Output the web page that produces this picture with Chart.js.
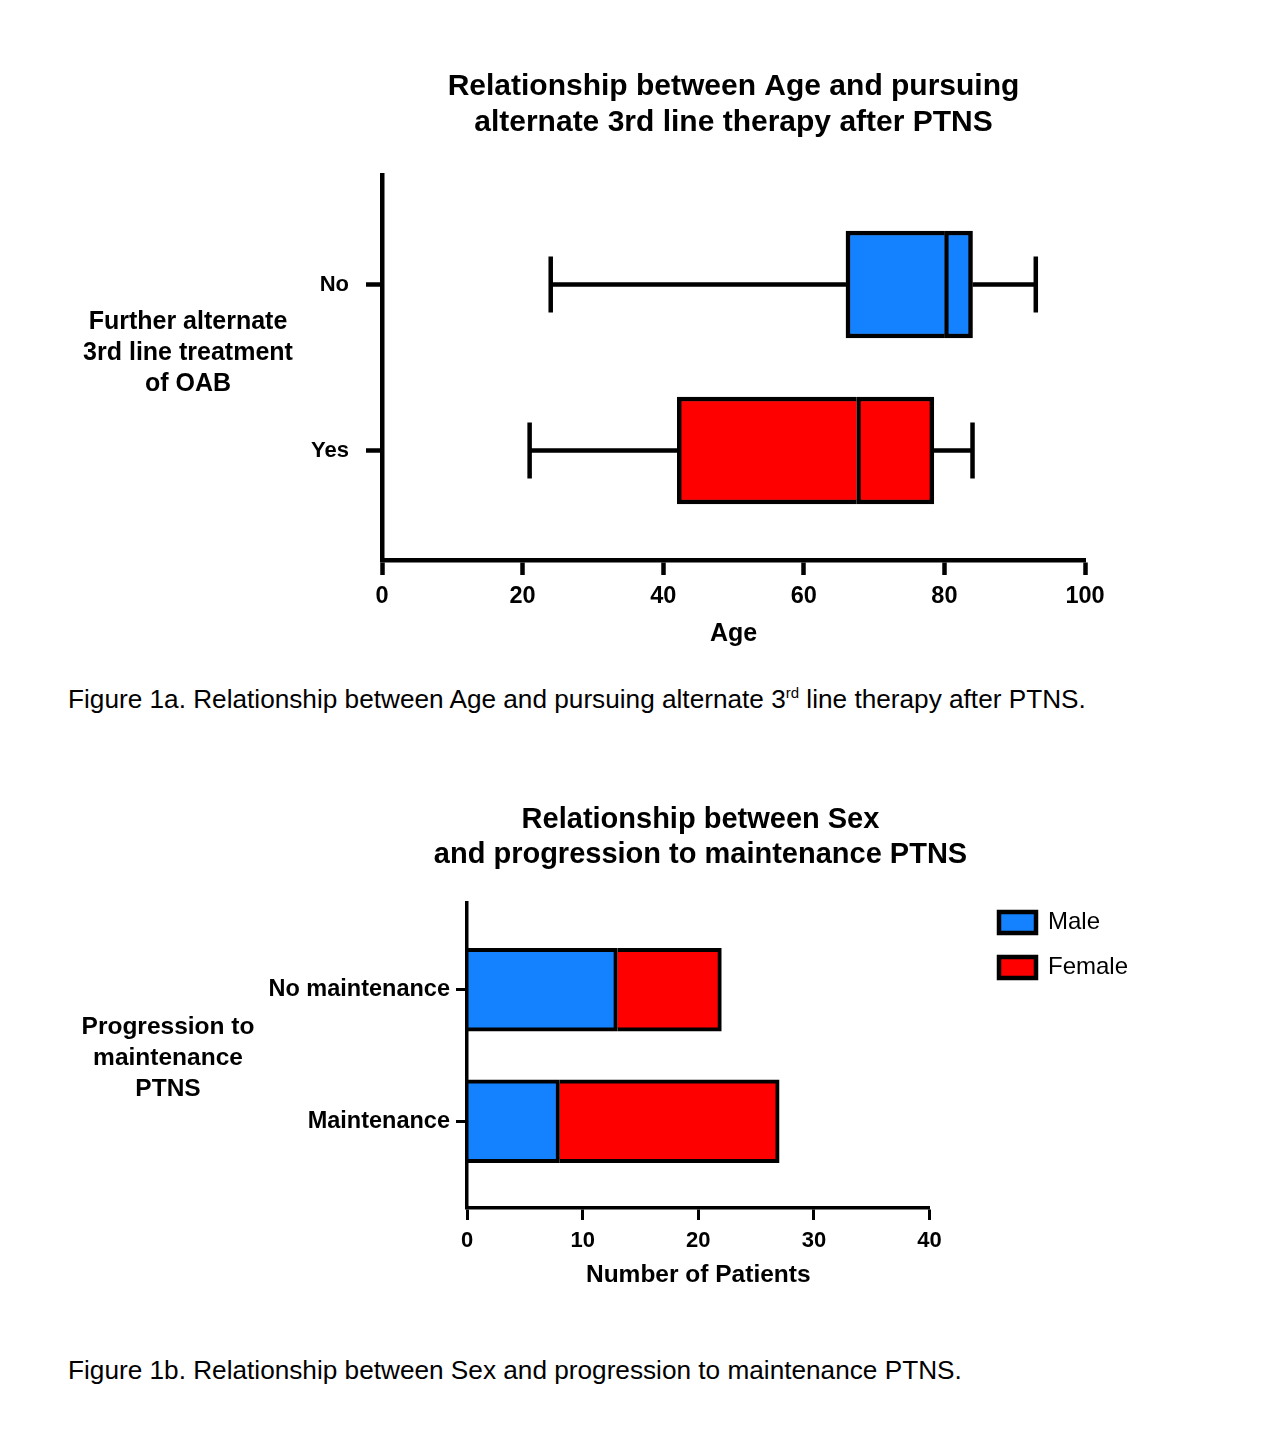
<!DOCTYPE html>
<html>
<head>
<meta charset="utf-8">
<script src="https://cdn.jsdelivr.net/npm/chart.js@4.4.1/dist/chart.umd.min.js"></script>
<style>
  html, body { margin: 0; padding: 0; background: #fff; }
  #page { position: relative; width: 1267px; height: 1429px; font-family: "Liberation Sans", Arial, sans-serif; color: #000; }
  .wrap { position: absolute; left: 0; width: 1267px; }
  .ytitle { position: absolute; width: 300px; text-align: center; font-weight: bold; line-height: 31px; }
  .caption { position: absolute; left: 68px; font-size: 26.2px; line-height: 30px; white-space: nowrap; }
  .caption sup { font-size: 15px; line-height: 0; vertical-align: 10px; }
</style>
</head>
<body>
<div id="page">
  <div class="wrap" style="top:0;height:660px"><canvas id="ageChart"></canvas></div>
  <div class="ytitle" style="left:38px;top:305px;font-size:25px">Further alternate<br>3rd line treatment<br>of OAB</div>
  <div class="caption" style="top:684px">Figure 1a. Relationship between Age and pursuing alternate 3<sup>rd</sup> line therapy after PTNS.</div>

  <div class="wrap" style="top:740px;height:560px"><canvas id="sexChart"></canvas></div>
  <div class="ytitle" style="left:18px;top:1010px;font-size:24.5px">Progression to<br>maintenance<br>PTNS</div>
  <div class="caption" style="top:1355px">Figure 1b. Relationship between Sex and progression to maintenance PTNS.</div>
</div>

<script>
// Figure 1a - age box plot (min, Q1, median, Q3, max)
const ageGroups = ['No', 'Yes'];
const ageMin = [24, 21];
const ageQ1 = [66, 42];
const ageMedian = [80, 67.5];
const ageQ3 = [84, 78.5];
const ageMax = [93, 84];
const ageTicks = [0, 20, 40, 60, 80, 100];

// Figure 1b - patients by sex
const maintGroups = ['No maintenance', 'Maintenance'];
const maleCounts = [13, 8];
const femaleCounts = [9, 19];
const patientTicks = [0, 10, 20, 30, 40];

const BLUE = '#1482FF';
const RED = '#FF0000';
const boxColors = [BLUE, RED];
const FONT = '"Liberation Sans", Arial, sans-serif';

Chart.defaults.font.family = FONT;
Chart.defaults.color = '#000';
Chart.defaults.animation = false;

// whiskers and caps for the box plot
const whiskerPlugin = {
    id: 'whiskers',
    afterDatasetsDraw(chart) {
        const { ctx, scales: { x, y } } = chart;
        const cap = 28;
        ctx.save();
        ctx.strokeStyle = '#000';
        ctx.lineWidth = 4.5;
        ageGroups.forEach((g, i) => {
            const yc = y.getPixelForValue(i);
            const xMin = x.getPixelForValue(ageMin[i]);
            const xQ1 = x.getPixelForValue(ageQ1[i]);
            const xQ3 = x.getPixelForValue(ageQ3[i]);
            const xMax = x.getPixelForValue(ageMax[i]);
            ctx.beginPath();
            ctx.moveTo(xMin, yc); ctx.lineTo(xQ1, yc);
            ctx.moveTo(xQ3, yc); ctx.lineTo(xMax, yc);
            ctx.moveTo(xMin, yc - cap); ctx.lineTo(xMin, yc + cap);
            ctx.moveTo(xMax, yc - cap); ctx.lineTo(xMax, yc + cap);
            ctx.stroke();
        });
        ctx.restore();
    }
};

function categoryTicks(labels) {
    return function(scale) {
        scale.ticks = labels.map((l, i) => ({ value: i }));
    };
}

new Chart(document.getElementById('ageChart'), {
    type: 'bar',
    data: {
        datasets: [{
            label: 'Q1 - median',
            data: ageGroups.map((g, i) => ({ x: [ageQ1[i], ageMedian[i]], y: i })),
            backgroundColor: boxColors,
            borderColor: '#000',
            borderWidth: { top: 4.5, bottom: 4.5, left: 4.5, right: 0 },
            borderSkipped: false,
            barThickness: 107,
            grouped: false
        }, {
            label: 'median - Q3',
            data: ageGroups.map((g, i) => ({ x: [ageMedian[i], ageQ3[i]], y: i })),
            backgroundColor: boxColors,
            borderColor: '#000',
            borderWidth: 4.5,
            borderSkipped: false,
            barThickness: 107,
            grouped: false
        }]
    },
    options: {
        indexAxis: 'y',
        responsive: true,
        maintainAspectRatio: false,
        layout: { padding: { left: 0, right: 182, top: 0, bottom: 0 } },
        plugins: {
            legend: { display: false },
            tooltip: { enabled: false },
            title: {
                display: true,
                fullSize: false,
                text: ['Relationship between Age and pursuing', 'alternate 3rd line therapy after PTNS'],
                font: { size: 30, weight: 'bold', lineHeight: 1.2 },
                color: '#000',
                padding: { top: 69, bottom: 34 }
            }
        },
        scales: {
            x: {
                type: 'linear',
                min: 0,
                max: 100,
                afterBuildTicks: s => { s.ticks = ageTicks.map(v => ({ value: v })); },
                ticks: { font: { size: 23.5, weight: 'bold' }, padding: 7, color: '#000' },
                grid: { drawOnChartArea: false, tickLength: 15, tickWidth: 4.5, color: '#000' },
                border: { color: '#000', width: 4.5 },
                title: { display: true, text: 'Age', font: { size: 25, weight: 'bold' }, color: '#000', padding: { top: 0, bottom: 11 } },
                afterFit: s => { s.height = 100; }
            },
            y: {
                type: 'linear',
                reverse: true,
                offset: false,
                min: -0.66,
                max: 1.66,
                afterBuildTicks: categoryTicks(ageGroups),
                ticks: { callback: v => ageGroups[v], font: { size: 22, weight: 'bold' }, padding: 17, color: '#000' },
                grid: { offset: false, drawOnChartArea: false, tickLength: 16, tickWidth: 4.5, color: '#000' },
                border: { color: '#000', width: 4.5 },
                afterFit: s => { s.width = 382; }
            }
        }
    },
    plugins: [whiskerPlugin]
});

new Chart(document.getElementById('sexChart'), {
    type: 'bar',
    data: {
        datasets: [{
            label: 'Male',
            data: maintGroups.map((g, i) => ({ x: maleCounts[i], y: i })),
            backgroundColor: BLUE,
            borderColor: '#000',
            borderWidth: { top: 4, bottom: 4, left: 0, right: 4 },
            borderSkipped: false,
            barThickness: 83,
            yAxisID: 'y'
        }, {
            label: 'Female',
            data: maintGroups.map((g, i) => ({ x: femaleCounts[i], y: i })),
            backgroundColor: RED,
            borderColor: '#000',
            borderWidth: { top: 4, bottom: 4, left: 0, right: 4 },
            borderSkipped: false,
            barThickness: 83,
            yAxisID: 'y'
        }]
    },
    options: {
        indexAxis: 'y',
        responsive: true,
        maintainAspectRatio: false,
        layout: { padding: { left: 264, right: 130, top: 0, bottom: 0 } },
        plugins: {
            tooltip: { enabled: false },
            title: {
                display: true,
                text: ['Relationship between Sex', 'and progression to maintenance PTNS'],
                font: { size: 29, weight: 'bold', lineHeight: 1.2 },
                color: '#000',
                padding: { top: 62.6, bottom: 30.8 }
            },
            legend: {
                position: 'right',
                align: 'start',
                fullSize: false,
                labels: {
                    boxWidth: 37,
                    boxHeight: 21,
                    padding: 7.5,
                    color: '#000',
                    font: { size: 24, lineHeight: 1.5625 },
                    generateLabels(chart) {
                        return Chart.defaults.plugins.legend.labels.generateLabels(chart).map(item => {
                            item.text = [item.text];
                            item.lineWidth = 4.5;
                            return item;
                        });
                    }
                }
            }
        },
        scales: {
            x: {
                type: 'linear',
                stacked: true,
                min: 0,
                max: 40,
                afterBuildTicks: s => { s.ticks = patientTicks.map(v => ({ value: v })); },
                ticks: { font: { size: 22, weight: 'bold' }, padding: 8, color: '#000' },
                grid: { drawOnChartArea: false, tickLength: 12, tickWidth: 3, color: '#000' },
                border: { color: '#000', width: 3.5 },
                title: { display: true, text: 'Number of Patients', font: { size: 24.5, weight: 'bold' }, color: '#000', padding: { top: 0, bottom: 10 } },
                afterFit: s => { s.height = 92; }
            },
            y: {
                type: 'linear',
                stacked: true,
                reverse: true,
                offset: false,
                min: -0.66,
                max: 1.66,
                afterBuildTicks: categoryTicks(maintGroups),
                ticks: { callback: v => maintGroups[v], font: { size: 23.5, weight: 'bold' }, padding: 6, color: '#000' },
                grid: { offset: false, drawOnChartArea: false, tickLength: 11, tickWidth: 3, color: '#000' },
                border: { color: '#000', width: 3.5, z: 1 },
                afterFit: s => { s.width = 203; }
            },
            // empty spacer between the plot and the legend
            y2: {
                type: 'linear',
                position: 'right',
                grid: { display: false },
                ticks: { display: false },
                border: { display: false },
                afterFit: s => { s.width = 62; }
            }
        }
    }
});
</script>
</body>
</html>
